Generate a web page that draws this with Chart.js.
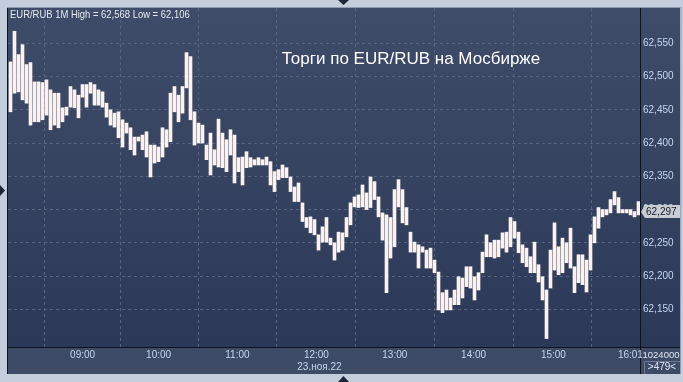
<!DOCTYPE html>
<html>
<head>
<meta charset="utf-8">
<title>EUR/RUB 1M</title>
<script src="https://cdn.jsdelivr.net/npm/chart.js@4.4.1/dist/chart.umd.min.js"></script>
<style>
	html, body { margin: 0; padding: 0; background: #c4cddb; }
	canvas { display: block; }
</style>
</head>
<body>
<canvas id="eurrub-chart" width="683" height="382"></canvas>
<script>
/* 1M bars, EUR/RUB 23.11.22 (each bar here ~3 minutes) */

var highs = [
	62.522, 62.568, 62.533, 62.548, 62.518, 62.521, 62.492, 62.492, 62.491, 62.495,
	62.480, 62.475, 62.475, 62.453, 62.454, 62.485, 62.480, 62.472, 62.488, 62.488,
	62.491, 62.488, 62.480, 62.477, 62.460, 62.450, 62.445, 62.447, 62.435, 62.430,
	62.423, 62.409, 62.409, 62.412, 62.417, 62.397, 62.397, 62.394, 62.423, 62.420,
	62.475, 62.485, 62.472, 62.485, 62.536, 62.530, 62.447, 62.430, 62.427, 62.397,
	62.415, 62.390, 62.436, 62.415, 62.405, 62.420, 62.412, 62.378, 62.379, 62.387,
	62.378, 62.375, 62.378, 62.375, 62.379, 62.372, 62.357, 62.360, 62.367, 62.363,
	62.349, 62.334, 62.340, 62.310, 62.288, 62.289, 62.285, 62.262, 62.274, 62.288,
	62.257, 62.250, 62.266, 62.265, 62.288, 62.310, 62.319, 62.322, 62.337, 62.325,
	62.349, 62.342, 62.319, 62.295, 62.292, 62.288, 62.330, 62.345, 62.330, 62.303,
	62.266, 62.251, 62.247, 62.244, 62.239, 62.242, 62.224, 62.206, 62.175, 62.179,
	62.167, 62.179, 62.199, 62.197, 62.214, 62.214, 62.199, 62.205, 62.236, 62.262,
	62.250, 62.254, 62.254, 62.265, 62.266, 62.288, 62.282, 62.266, 62.247, 62.242,
	62.229, 62.251, 62.217, 62.199, 62.179, 62.239, 62.280, 62.244, 62.257, 62.250,
	62.272, 62.214, 62.232, 62.232, 62.224, 62.262, 62.289, 62.303, 62.300, 62.300,
	62.315, 62.327, 62.318, 62.300, 62.300, 62.300, 62.297, 62.312
];

var lows = [
	62.447, 62.475, 62.477, 62.465, 62.460, 62.427, 62.432, 62.432, 62.435, 62.442,
	62.420, 62.427, 62.423, 62.432, 62.442, 62.454, 62.453, 62.438, 62.469, 62.454,
	62.475, 62.457, 62.457, 62.454, 62.439, 62.427, 62.424, 62.408, 62.394, 62.415,
	62.390, 62.382, 62.403, 62.390, 62.379, 62.349, 62.370, 62.372, 62.379, 62.394,
	62.402, 62.447, 62.432, 62.445, 62.483, 62.435, 62.397, 62.400, 62.400, 62.375,
	62.352, 62.367, 62.364, 62.363, 62.357, 62.382, 62.340, 62.357, 62.337, 62.363,
	62.364, 62.367, 62.367, 62.367, 62.367, 62.337, 62.327, 62.345, 62.348, 62.348,
	62.327, 62.312, 62.312, 62.282, 62.273, 62.265, 62.262, 62.239, 62.251, 62.251,
	62.247, 62.224, 62.236, 62.239, 62.259, 62.277, 62.304, 62.303, 62.304, 62.300,
	62.303, 62.315, 62.289, 62.254, 62.175, 62.227, 62.244, 62.304, 62.280, 62.277,
	62.236, 62.236, 62.212, 62.236, 62.212, 62.212, 62.205, 62.149, 62.145, 62.149,
	62.149, 62.157, 62.157, 62.167, 62.184, 62.182, 62.164, 62.179, 62.205, 62.229,
	62.229, 62.227, 62.229, 62.242, 62.236, 62.244, 62.257, 62.235, 62.220, 62.214,
	62.205, 62.205, 62.191, 62.164, 62.106, 62.182, 62.209, 62.202, 62.205, 62.220,
	62.212, 62.175, 62.190, 62.187, 62.176, 62.209, 62.250, 62.272, 62.289, 62.292,
	62.295, 62.307, 62.295, 62.295, 62.295, 62.292, 62.289, 62.292
];

var priceTicks = [62.15, 62.20, 62.25, 62.30, 62.35, 62.40, 62.45, 62.50, 62.55];
var timeLabels = ['09:00', '10:00', '11:00', '12:00', '13:00', '14:00', '15:00', '16:01'];
var timeTickBars = [18.03, 37.03, 56.73, 76.48, 96.08, 115.78, 135.73, 154.98];

var dateLabel = '23.ноя.22';
var headerText = 'EUR/RUB 1M High = 62,568 Low = 62,106';
var titleText = 'Торги по EUR/RUB на Мосбирже';
var lastPrice = 62.297;
var volumeText = '1024000';
var barCountText = '>479<';

var yMin = 62.0933;
var yMax = 62.6031;

var formatPrice = function(value) {
	return value.toFixed(3).replace('.', ',');
};

var getBars = function() {
	var bars = [];
	for (var i = 0; i < highs.length; i++) {
		bars.push({ x: i, y: [lows[i], highs[i]] });
	}
	return bars;
};

var labelFont = '10px "Liberation Sans", Arial, sans-serif';
var labelColor = '#c4d6ef';

/* frame, gradient panels and the small markers round the chart */
var backdrop = {
	id: 'backdrop',
	beforeDraw: function(chart) {
		var ctx = chart.ctx;
		var area = chart.chartArea;
		ctx.save();
		ctx.fillStyle = '#c4cddb';
		ctx.fillRect(0, 0, chart.width, chart.height);

		var gradient = ctx.createLinearGradient(0, area.top, 0, area.bottom);
		gradient.addColorStop(0, '#3f4c69');
		gradient.addColorStop(1, '#2b3857');
		ctx.fillStyle = gradient;
		ctx.fillRect(area.left, area.top, 680 - area.left, area.bottom - area.top);

		ctx.fillStyle = '#3e4b67';
		ctx.fillRect(area.left, area.bottom, 680 - area.left, 374 - area.bottom);

		ctx.strokeStyle = '#0c1220';
		ctx.lineWidth = 1;
		ctx.beginPath();
		ctx.moveTo(area.right + 0.5, area.top);
		ctx.lineTo(area.right + 0.5, 374);
		ctx.moveTo(area.left, area.bottom + 0.5);
		ctx.lineTo(680, area.bottom + 0.5);
		ctx.moveTo(area.left - 0.5, area.top);
		ctx.lineTo(area.left - 0.5, 374);
		ctx.stroke();

		ctx.strokeStyle = '#8f9db2';
		ctx.beginPath();
		ctx.moveTo(area.left - 1, area.top - 0.5);
		ctx.lineTo(681, area.top - 0.5);
		ctx.lineTo(680.5, 374);
		ctx.stroke();

		ctx.fillStyle = '#1d2639';
		ctx.beginPath();
		ctx.moveTo(338, 0); ctx.lineTo(349, 0); ctx.lineTo(343.5, 5);
		ctx.fill();
		ctx.beginPath();
		ctx.moveTo(0, 185); ctx.lineTo(5, 190.5); ctx.lineTo(0, 196);
		ctx.fill();
		ctx.beginPath();
		ctx.moveTo(338, 382); ctx.lineTo(349, 382); ctx.lineTo(343.5, 376);
		ctx.fill();
		ctx.restore();
	}
};

/* texts: price axis, time axis, header and title */
var captions = {
	id: 'captions',
	afterDraw: function(chart) {
		var ctx = chart.ctx;
		var area = chart.chartArea;
		var xScale = chart.scales.x;
		var yScale = chart.scales.y;
		ctx.save();
		ctx.font = labelFont;
		ctx.fillStyle = labelColor;
		ctx.textBaseline = 'middle';
		ctx.textAlign = 'left';
		for (var i = 0; i < priceTicks.length; i++) {
			ctx.fillText(formatPrice(priceTicks[i]), area.right + 3, yScale.getPixelForValue(priceTicks[i]));
		}

		ctx.textAlign = 'center';
		for (var j = 0; j < timeLabels.length; j++) {
			ctx.fillText(timeLabels[j], xScale.getPixelForValue(timeTickBars[j]), area.bottom + 8);
		}
		ctx.fillText(dateLabel, xScale.getPixelForValue(timeTickBars[3]) + 3, area.bottom + 20);

		// last price marker (covers the 62,300 label like the terminal does)
		var py = Math.round(yScale.getPixelForValue(lastPrice));
		ctx.fillStyle = '#c9cdd2';
		ctx.beginPath();
		ctx.moveTo(area.right + 1, py);
		ctx.lineTo(area.right + 5, py - 7);
		ctx.lineTo(680, py - 7);
		ctx.lineTo(680, py + 6);
		ctx.lineTo(area.right + 5, py + 6);
		ctx.closePath();
		ctx.fill();
		ctx.fillStyle = '#131b2b';
		ctx.textAlign = 'left';
		ctx.fillText(formatPrice(lastPrice), area.right + 6, py);

		// volume / bar count box
		ctx.fillStyle = '#dfe7f3';
		ctx.textAlign = 'center';
		ctx.font = '9.5px "Liberation Sans", Arial, sans-serif';
		ctx.fillText(volumeText, 661, area.bottom + 8);
		ctx.font = labelFont;
		ctx.fillText(barCountText, 662, area.bottom + 20);
		ctx.strokeStyle = '#6d7a92';
		ctx.beginPath();
		ctx.moveTo(area.right + 4.5, area.bottom + 14.5);
		ctx.lineTo(680, area.bottom + 14.5);
		ctx.moveTo(area.right + 4.5, area.bottom + 14.5);
		ctx.lineTo(area.right + 4.5, 374);
		ctx.stroke();

		// header, squeezed like the terminal's narrow font
		ctx.fillStyle = '#e4eaf2';
		ctx.textAlign = 'left';
		ctx.font = '10.5px "Liberation Sans", Arial, sans-serif';
		ctx.translate(area.left + 2, area.top + 7);
		ctx.scale(0.9, 1);
		ctx.fillText(headerText, 0, 0);
		ctx.setTransform(1, 0, 0, 1, 0, 0);

		ctx.fillStyle = '#ffffff';
		ctx.font = '17px "Liberation Sans", Arial, sans-serif';
		ctx.textAlign = 'center';
		ctx.fillText(titleText, 411, 59);
		ctx.restore();
	}
};

var context = document.getElementById('eurrub-chart').getContext('2d');
var chart = new Chart(context, {
	type: 'bar',
	data: {
		datasets: [{
			label: 'EUR/RUB',
			data: getBars(),
			backgroundColor: '#fcf1ec',
			borderWidth: 0,
			barThickness: 3,
			minBarLength: 2
		}]
	},
	options: {
		responsive: false,
		animation: false,
		devicePixelRatio: 1,
		layout: { padding: { left: 8, top: 8, right: 43, bottom: 35 } },
		plugins: { legend: { display: false }, tooltip: { enabled: false }, title: { display: false } },
		scales: {
			x: {
				type: 'linear',
				// a quarter bar shift keeps the 3px bars on whole pixels
				min: -0.625,
				max: highs.length - 0.625,
				offset: false,
				afterBuildTicks: function(scale) {
					scale.ticks = timeTickBars.map(function(v) { return { value: v }; });
				},
				ticks: { display: false },
				grid: { color: '#56647f', lineWidth: 1, drawTicks: false },
				border: { display: false, dash: [3, 3] }
			},
			y: {
				type: 'linear',
				min: yMin,
				max: yMax,
				afterBuildTicks: function(scale) {
					scale.ticks = priceTicks.map(function(v) { return { value: v }; });
				},
				ticks: { display: false },
				grid: { color: '#56647f', lineWidth: 1, drawTicks: false },
				border: { display: false, dash: [3, 3] }
			}
		}
	},
	plugins: [backdrop, captions]
});
</script>
</body>
</html>
